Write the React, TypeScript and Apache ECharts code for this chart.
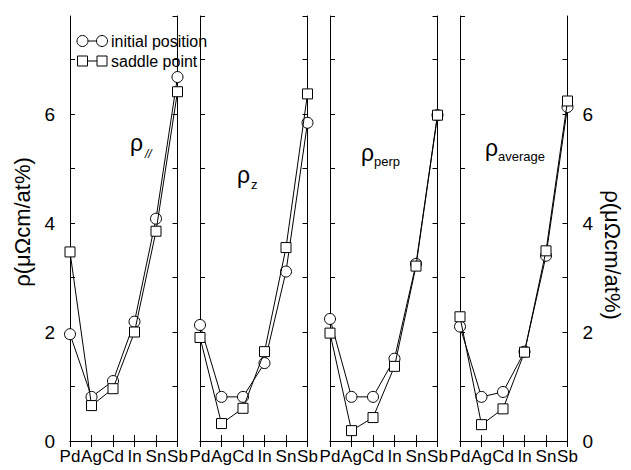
import React, { useEffect, useRef } from "react";
import * as echarts from "echarts";

const categories = ["Pd", "Ag", "Cd", "In", "Sn", "Sb"];

const panelNames = ["//", "z", "perp", "average"];

// initial position (circles)
const initialPar = [1.96, 0.81, 1.1, 2.19, 4.08, 6.68];
const initialZ = [2.13, 0.81, 0.81, 1.43, 3.11, 5.84];
const initialPerp = [2.24, 0.81, 0.81, 1.51, 3.25, 5.98];
const initialAvg = [2.1, 0.81, 0.9, 1.64, 3.4, 6.13];

// saddle point (squares)
const saddlePar = [3.47, 0.65, 0.96, 2.0, 3.85, 6.41];
const saddleZ = [1.9, 0.32, 0.6, 1.64, 3.55, 6.37];
const saddlePerp = [1.98, 0.19, 0.43, 1.37, 3.21, 5.98];
const saddleAvg = [2.28, 0.3, 0.59, 1.63, 3.49, 6.24];

const initialSets = [initialPar, initialZ, initialPerp, initialAvg];
const saddleSets = [saddlePar, saddleZ, saddlePerp, saddleAvg];

const yTickLabels = ["0", "2", "4", "6"];

const FONT = "'Liberation Sans', Arial, Helvetica, sans-serif";

export default function App() {
  const ref = useRef<HTMLDivElement>(null);

  useEffect(() => {
    if (!ref.current) return;
    const chart = echarts.init(ref.current, undefined, { renderer: "svg" });

    const lefts = [70, 200, 330, 460];
    const top = 16;
    const height = 425;
    const width = 107.5;

    const grids: any[] = [];
    const xAxes: any[] = [];
    const yAxes: any[] = [];
    const series: any[] = [];

    const axisLine = { show: true, lineStyle: { color: "#000", width: 1 } };

    lefts.forEach((left, i) => {
      grids.push({ left, top, width, height, containLabel: false });
      xAxes.push({
        type: "category",
        gridIndex: i,
        data: categories,
        boundaryGap: false,
        position: "bottom",
        axisLine,
        axisTick: { show: true, inside: true, length: 6, interval: 0, lineStyle: { color: "#000" } },
        axisLabel: { show: true, interval: 0, color: "#000", fontSize: 17, fontFamily: FONT, margin: 7 },
        splitLine: { show: false },
      });
      xAxes.push({
        type: "category",
        gridIndex: i,
        data: categories,
        boundaryGap: false,
        position: "top",
        axisLine,
        axisTick: { show: true, inside: true, length: 6, interval: 0, lineStyle: { color: "#000" } },
        axisLabel: { show: false },
        splitLine: { show: false },
      });
      const yBase = {
        type: "value",
        gridIndex: i,
        min: 0,
        max: 7.8,
        interval: 1,
        axisLine,
        axisTick: { show: true, inside: true, length: 5, lineStyle: { color: "#000" } },
        splitLine: { show: false },
      };
      const yLabel = (show: boolean) => ({
        show,
        color: "#000",
        fontSize: 19,
        fontFamily: FONT,
        margin: 15,
        showMaxLabel: false,
        formatter: (v: number) => (yTickLabels.includes(String(v)) ? String(v) : ""),
      });
      yAxes.push({ ...yBase, position: "left", axisLabel: yLabel(i === 0) });
      yAxes.push({ ...yBase, position: "right", axisLabel: yLabel(i === 3) });

      series.push({
        type: "line",
        name: "initial position",
        xAxisIndex: 2 * i,
        yAxisIndex: 2 * i,
        data: initialSets[i],
        symbol: "circle",
        symbolSize: 11,
        showAllSymbol: true,
        lineStyle: { color: "#000", width: 1 },
        itemStyle: { color: "#fff", borderColor: "#000", borderWidth: 1 },
        z: 2,
      });
      series.push({
        type: "line",
        name: "saddle point",
        xAxisIndex: 2 * i,
        yAxisIndex: 2 * i,
        data: saddleSets[i],
        symbol: "rect",
        symbolSize: 10,
        showAllSymbol: true,
        lineStyle: { color: "#000", width: 1 },
        itemStyle: { color: "#fff", borderColor: "#000", borderWidth: 1 },
        z: 3,
      });
    });

    const subLabels = [
      { x: 130, y: 143, sx: 145, sy: 154, italic: true },
      { x: 237, y: 175, sx: 251, sy: 184, italic: false },
      { x: 361, y: 153, sx: 374, sy: 161, italic: false },
      { x: 485, y: 148, sx: 498, sy: 156, italic: false },
    ];

    const graphic: any[] = [];
    subLabels.forEach((p, i) => {
      graphic.push({
        type: "text",
        x: p.x,
        y: p.y,
        style: { text: "ρ", fontSize: 23, fontFamily: FONT, fill: "#000", align: "left", verticalAlign: "middle" },
        z: 10,
      });
      graphic.push({
        type: "text",
        x: p.sx,
        y: p.sy,
        style: {
          text: panelNames[i],
          fontSize: i === 0 ? 12 : 13,
          fontStyle: p.italic ? "italic" : "normal",
          fontFamily: FONT,
          fill: "#000",
          align: "left",
          verticalAlign: "middle",
        },
        z: 10,
      });
    });

    graphic.push({
      type: "text",
      x: 22,
      y: 222,
      rotation: Math.PI / 2,
      style: { text: "ρ(μΩcm/at%)", fontSize: 22, fontFamily: FONT, fill: "#000", align: "center", verticalAlign: "middle" },
    });
    graphic.push({
      type: "text",
      x: 612,
      y: 255,
      rotation: -Math.PI / 2,
      style: { text: "ρ(μΩcm/at%)", fontSize: 22, fontFamily: FONT, fill: "#000", align: "center", verticalAlign: "middle" },
    });

    const legRows = [
      { y: 41, text: "initial position", shape: "circle" },
      { y: 61, text: "saddle point", shape: "rect" },
    ];
    legRows.forEach((r) => {
      graphic.push({
        type: "line",
        shape: { x1: 82.5, y1: r.y, x2: 102, y2: r.y },
        style: { stroke: "#000", lineWidth: 1 },
        z: 10,
      });
      [82.5, 102].forEach((cx) => {
        if (r.shape === "circle") {
          graphic.push({
            type: "circle",
            shape: { cx, cy: r.y, r: 5.5 },
            style: { fill: "#fff", stroke: "#000", lineWidth: 1 },
            z: 11,
          });
        } else {
          graphic.push({
            type: "rect",
            shape: { x: cx - 5, y: r.y - 5, width: 10, height: 10 },
            style: { fill: "#fff", stroke: "#000", lineWidth: 1 },
            z: 11,
          });
        }
      });
      graphic.push({
        type: "text",
        x: 111,
        y: r.y,
        style: { text: r.text, fontSize: 16, fontFamily: FONT, fill: "#000", align: "left", verticalAlign: "middle" },
        z: 11,
      });
    });

    chart.setOption({
      animation: false,
      backgroundColor: "#fff",
      grid: grids,
      xAxis: xAxes,
      yAxis: yAxes,
      series,
      graphic,
    });

    return () => chart.dispose();
  }, []);

  return (
    <div
      ref={ref}
      style={{ position: "absolute", left: 0, top: 0, width: 631, height: 470 }}
    />
  );
}
